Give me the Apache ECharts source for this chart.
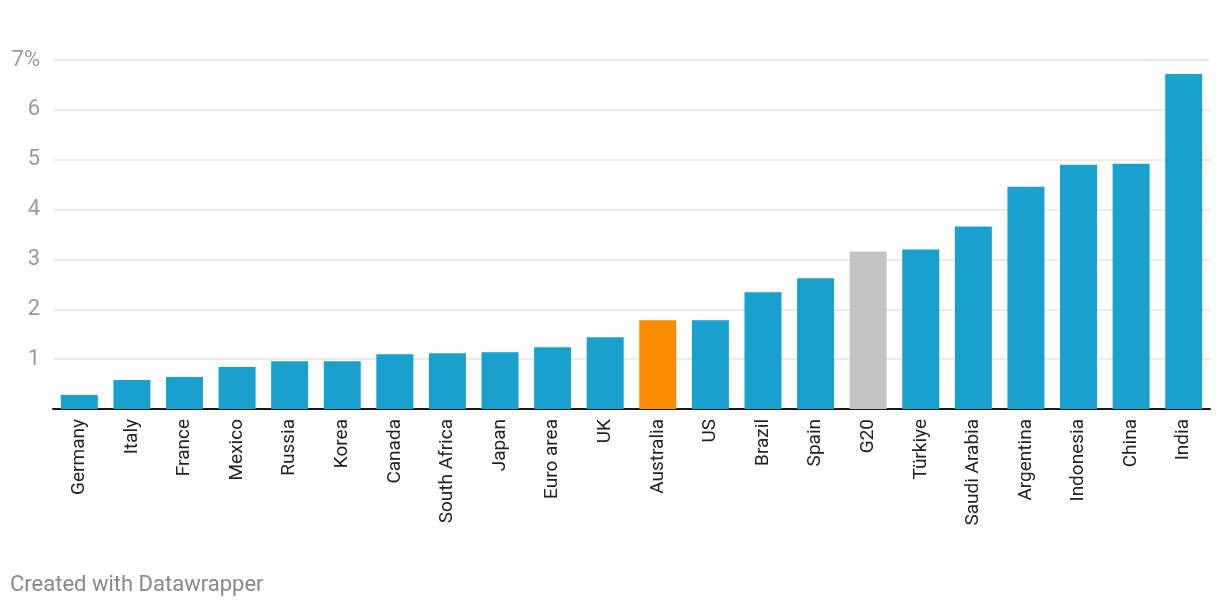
<!DOCTYPE html>
<html>
<head>
<meta charset="utf-8">
<script src="https://cdn.jsdelivr.net/npm/echarts@6/dist/echarts.min.js"></script>
<style>
html,body{margin:0;padding:0;background:#fff;}
#chart{width:1220px;height:610px;}
</style>
</head>
<body>
<div id="chart"></div>
<script>
const categories = ["Germany","Italy","France","Mexico","Russia","Korea","Canada","South Africa","Japan","Euro area","UK","Australia","US","Brazil","Spain","G20","Türkiye","Saudi Arabia","Argentina","Indonesia","China","India"];
const values = [0.28,0.58,0.64,0.84,0.96,0.96,1.1,1.12,1.14,1.24,1.44,1.78,1.78,2.34,2.62,3.16,3.2,3.66,4.46,4.9,4.92,6.72];
const highlight = {"Australia":"#fa8c00","G20":"#c4c4c4"};
const baseColor = "#18a1cd";
const yTicks = [0,1,2,3,4,5,6,7];

const chart = echarts.init(document.getElementById('chart'));
chart.setOption({
  animation:false,
  backgroundColor:'#fff',
  textStyle:{fontFamily:'Roboto'},
  grid:{left:53,right:10,top:60,bottom:201,containLabel:false},
  xAxis:{
    type:'category',
    data:categories,
    axisLine:{show:true,lineStyle:{color:'#1a1a1a',width:2}},
    axisTick:{show:false},
    axisLabel:{rotate:90,color:'#222',fontSize:19,margin:10,interval:0,fontFamily:'Roboto'}
  },
  yAxis:{
    type:'value',
    min:0,max:7,interval:1,
    axisLine:{show:false},
    axisTick:{show:false},
    splitLine:{lineStyle:{color:'#e4e4e4',width:1.5}},
    axisLabel:{
      color:'#9a9a9a',fontSize:22,margin:13,fontFamily:'Roboto',
      formatter:function(v){ if(v===0) return ''; return v===yTicks[yTicks.length-1] ? v+'%' : String(v); }
    }
  },
  series:[{
    type:'bar',
    barWidth:37,
    data:values.map((v,i)=>({value:v,itemStyle:{color:highlight[categories[i]]||baseColor}}))
  }],
  graphic:[{
    type:'text',left:10,top:574,
    style:{text:'Created with Datawrapper',fill:'#888',font:'22px Roboto'}
  }]
});
</script>
</body>
</html>
